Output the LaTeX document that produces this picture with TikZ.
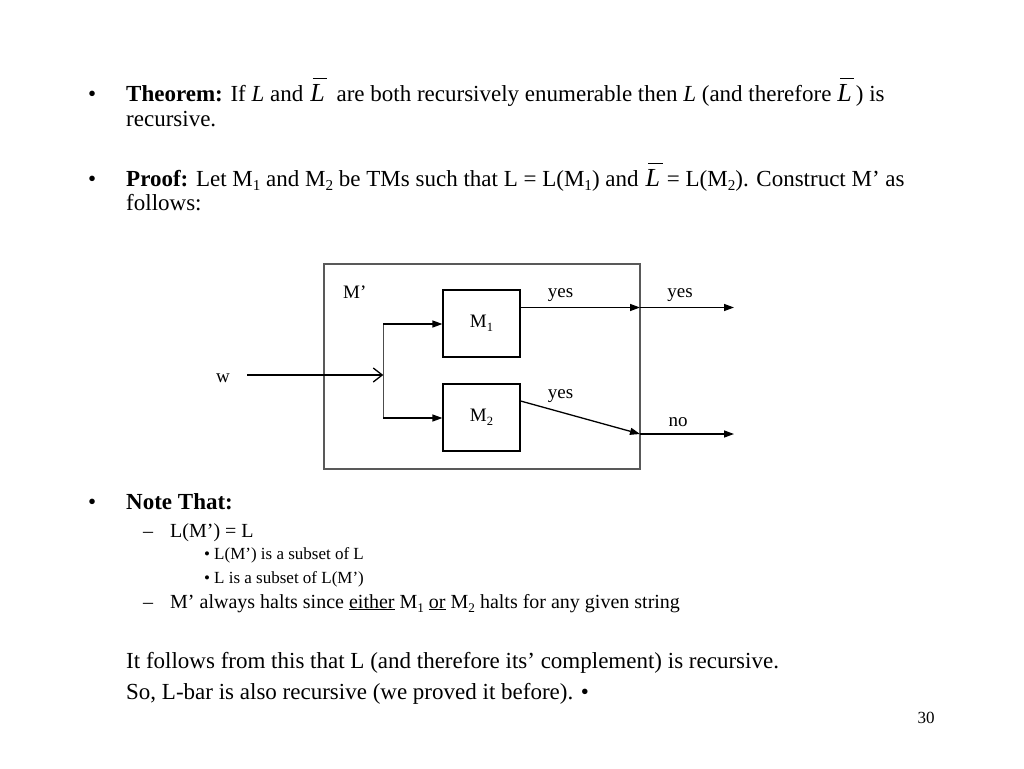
\documentclass[tikz,border=0pt]{standalone}
\usepackage{fontspec}
\usepackage{graphicx}
\setmainfont{Liberation Serif}
\usetikzlibrary{arrows.meta}
\newcommand{\Lbar}{{\fontsize{26}{26}\selectfont\itshape\makebox[0pt][l]{\hspace{0.1em}\rule[0.86em]{0.55em}{1.1pt}}L}}
\newcommand{\sbs}[1]{\raisebox{-0.2em}{\scalebox{0.66}{#1}}}
\begin{document}
\begin{tikzpicture}[x=1pt,y=-1pt,
  txt/.style={anchor=base west,inner sep=0pt,font=\fontsize{23}{28}\selectfont},
  subtxt/.style={anchor=base west,inner sep=0pt,font=\fontsize{20}{24}\selectfont},
  ssubtxt/.style={anchor=base west,inner sep=0pt,font=\fontsize{17}{20}\selectfont},
  lbl/.style={inner sep=0pt,font=\fontsize{19}{22}\selectfont},
  tm/.style={draw=black,line width=1.2pt,minimum width=77pt,minimum height=67pt,inner sep=0pt,font=\fontsize{19}{22}\selectfont},
  outer/.style={draw=black!65,line width=1.6pt,minimum width=316pt,minimum height=205pt,inner sep=0pt},
  conn/.style={line width=1.3pt,-{Triangle[length=10pt,width=7pt]}},
  openarr/.style={line width=1.3pt,-{Straight Barb[length=9pt,width=14pt,line width=1.3pt]}}
]
\useasboundingbox (0,0) rectangle (1024,768);
\fill[white] (0,0) rectangle (1024,768);
% text
\node[txt] (b1) at (88,101) {•};
\node[txt] (t1) at (126,101) {\textbf{Theorem:} If \textit{L} and\hspace{7pt}\Lbar\hspace{6pt} are both recursively enumerable then \textit{L} (and therefore\hspace{6pt}\Lbar\hspace{4pt}) is};
\node[txt] (t1b) at (126,126) {recursive.};
\node[txt] (b2) at (88,186) {•};
\node[txt] (t2) at (126,186) {\textbf{Proof:} Let M\sbs{1} and M\sbs{2} be TMs such that L = L(M\sbs{1}) and\hspace{7pt}\Lbar\hspace{1pt} = L(M\sbs{2}). Construct M’ as};
\node[txt] (t2b) at (126,210) {follows:};
\node[txt] (b3) at (88,509) {•};
\node[txt] (t3) at (126,509) {\textbf{Note That:}};
\node[subtxt] (d1) at (143,537) {–};
\node[subtxt] (s1) at (170,537) {L(M’) = L};
\node[ssubtxt] (bb1) at (204,559) {•};
\node[ssubtxt] (ss1) at (214,559) {L(M’) is a subset of L};
\node[ssubtxt] (bb2) at (204,583) {•};
\node[ssubtxt] (ss2) at (214,583) {L is a subset of L(M’)};
\node[subtxt] (d2) at (143,608) {–};
\node[subtxt] (s2) at (170,608) {M’ always halts since \underline{either} M\sbs{1} \underline{or} M\sbs{2} halts for any given string};
\node[txt] (f1) at (126,668) {It follows from this that L (and therefore its’ complement) is recursive.};
\node[txt] (f2) at (126,699) {So, L-bar is also recursive (we proved it before). •};
\node[ssubtxt,anchor=base] (pg) at (926,723) {30};
% diagram
\node[outer] (Mp) at (482,366.5) {};
\node[lbl,anchor=base west] (Mpl) at (343,298) {M’};
\node[tm] (M1) at (481.5,323.5) {M\sbs{1}};
\node[tm] (M2) at (481.5,417.5) {M\sbs{2}};
\node[lbl,anchor=base] (wl) at (223,382) {w};
\coordinate (win) at (247,375);
\coordinate (j) at (383.3,375);
\coordinate (jt) at (383.3,324);
\coordinate (jb) at (383.3,418);
\coordinate (o1) at (640,307.5);
\coordinate (o2) at (640,434);
\coordinate (e1) at (734,307.5);
\coordinate (e2) at (734,434);
\draw[openarr] (win) -- (j);
\draw[line width=1.3pt,black!70] (jt) -- (jb);
\draw[conn] (jt) -- (jt -| M1.west);
\draw[conn] (jb) -- (jb -| M2.west);
\draw[conn] (M1.east |- o1) -- (o1);
\draw[conn] (M2.east |- 0,401) -- (o2);
\draw[conn] (o1) -- (e1);
\draw[conn] (o2) -- (e2);
\node[lbl,anchor=base] (y1) at (560.5,297) {yes};
\node[lbl,anchor=base] (y2) at (680,297) {yes};
\node[lbl,anchor=base] (y3) at (560.5,398) {yes};
\node[lbl,anchor=base] (n1) at (678,426) {no};
\end{tikzpicture}
\end{document}
